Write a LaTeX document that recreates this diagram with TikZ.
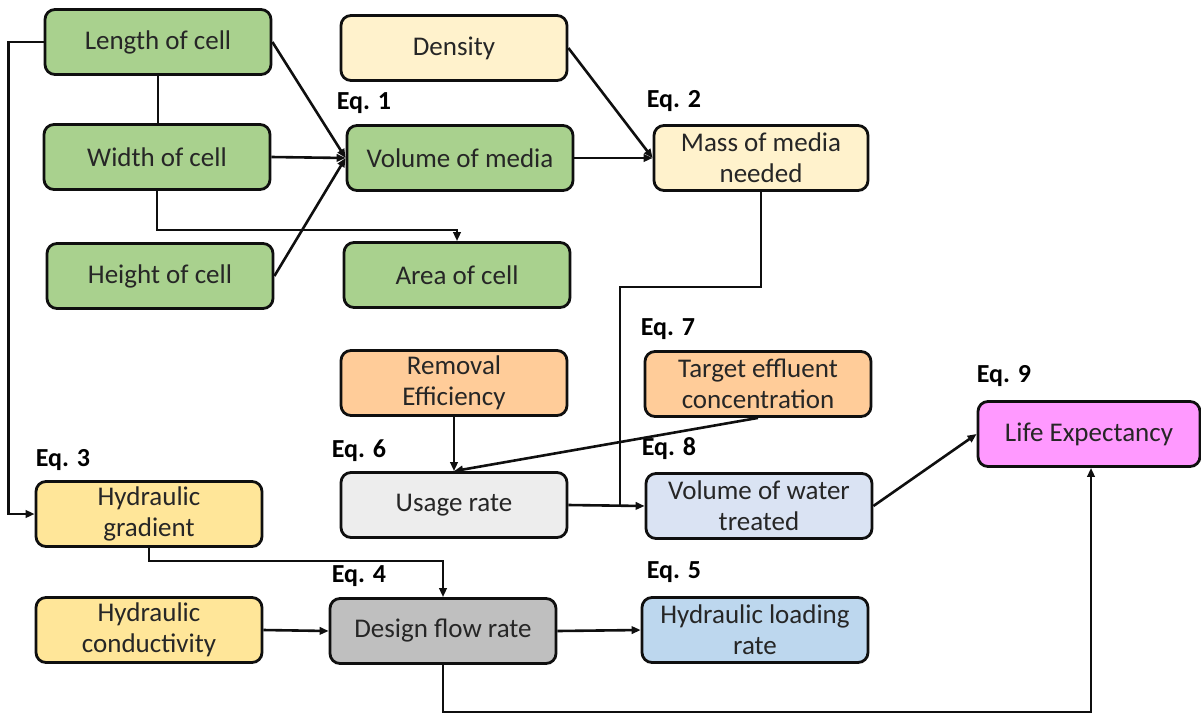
\documentclass[tikz,border=0pt]{standalone}
\usepackage{fontspec}
\setmainfont{Carlito}
\usepackage{xcolor}
\usepackage{tikz}
\usetikzlibrary{arrows.meta, positioning, calc}
\definecolor{cellgreen}{RGB}{169,209,142}
\definecolor{hdrcream}{RGB}{255,242,204}
\definecolor{hdrorange}{RGB}{255,204,153}
\definecolor{hdryellow}{RGB}{255,230,153}
\definecolor{hdrgray}{RGB}{237,237,237}
\definecolor{flowgray}{RGB}{191,191,191}
\definecolor{hdrblue}{RGB}{218,227,243}
\definecolor{loadblue}{RGB}{189,215,238}
\definecolor{hdrpink}{RGB}{255,153,255}
\definecolor{mydark}{RGB}{15,15,15}
\tikzset{
  block/.style={rectangle, draw=mydark, text=black!85,
    minimum width=226pt, minimum height=65pt, align=center,
    font=\fontsize{27}{31}\selectfont, rounded corners=10pt, line width=2.8pt},
  eqlabel/.style={font=\fontsize{26}{28}\selectfont\bfseries, anchor=south west,
    inner sep=0pt},
  arrow/.style={-{Triangle[length=9pt,width=7.5pt]}, line width=2.6pt, color=mydark},
  line/.style={line width=2.6pt, color=mydark}
}

\begin{document}
\begin{tikzpicture}[x=1pt, y=-1pt]
  \useasboundingbox (0,0) rectangle (1201,713);

  % Cell geometry
  \node[block, fill=cellgreen] (len) at (158,42) {Length of cell};
  \node[block, fill=cellgreen] (wid) at (157,157) {Width of cell};
  \node[block, fill=cellgreen] (hgt) at (160,276) {Height of cell};
  \node[block, fill=cellgreen] (vol) at (460,158) {Volume of media};
  \node[block, fill=cellgreen] (area) at (457,275) {Area of cell};

  % Media
  \node[block, fill=hdrcream] (dens) at (454,48) {Density};
  \node[block, fill=hdrcream, minimum width=214pt] (mass) at (761,158) {Mass of media\\needed};

  % Treatment
  \node[block, fill=hdrorange] (remov) at (454,383) {Removal\\Efficiency};
  \node[block, fill=hdrorange] (target) at (758,384) {Target effluent\\concentration};
  \node[block, fill=hdrgray] (usage) at (454,505) {Usage rate};
  \node[block, fill=hdrblue] (water) at (759,506) {Volume of water\\treated};
  \node[block, fill=hdrpink, minimum width=222pt] (life) at (1089,434) {Life Expectancy};

  % Hydraulics
  \node[block, fill=hdryellow] (grad) at (149,514) {Hydraulic\\gradient};
  \node[block, fill=hdryellow] (cond) at (149,630) {Hydraulic\\conductivity};
  \node[block, fill=flowgray] (design) at (443,631) {Design flow rate};
  \node[block, fill=loadblue] (load) at (755,630) {Hydraulic loading\\rate};

  % Equation numbers
  \node[eqlabel] at ([xshift=-9pt, yshift=10pt]vol.north west) {Eq. 1};
  \node[eqlabel] at ([xshift=-6pt, yshift=12pt]mass.north west) {Eq. 2};
  \node[eqlabel] at ([xshift=1pt, yshift=9pt]grad.north west) {Eq. 3};
  \node[eqlabel] at ([xshift=3pt, yshift=10pt]design.north west) {Eq. 4};
  \node[eqlabel] at ([xshift=6pt, yshift=13pt]load.north west) {Eq. 5};
  \node[eqlabel] at ([xshift=-8pt, yshift=9pt]usage.north west) {Eq. 6};
  \node[eqlabel] at ([xshift=-3pt, yshift=10pt]target.north west) {Eq. 7};
  \node[eqlabel] at ([xshift=-3pt, yshift=12pt]water.north west) {Eq. 8};
  \node[eqlabel] at ([xshift=0pt, yshift=13pt]life.north west) {Eq. 9};

  \coordinate (jn) at (620,287);

  % Connections
  \draw[arrow] (len.east) -- (vol.west);
  \draw[arrow] (wid.east) -- (vol.west);
  \draw[arrow] (hgt.east) -- (vol.west);
  \draw[line] (len.south) -- (len.south |- wid.north);
  \draw[arrow] (wid.south) -- ++(0,39) -| (area.north);
  \draw[arrow] (len.west) -- ++(-35,0) |- (grad.west);
  \draw[arrow] (dens.east) -- (mass.west);
  \draw[arrow] (vol.east) -- (mass.west);
  \draw[line] (mass.south) |- (jn) -- (jn |- water.west);
  \draw[arrow] (usage.east) -- (water.west);
  \draw[arrow] (remov.south) -- (usage.north);
  \draw[arrow] (target.south) -- (usage.north);
  \draw[arrow] (water.east) -- (life.west);
  \draw[arrow] (grad.south) -- ++(0,13) -| (design.north);
  \draw[arrow] (cond.east) -- (design.west);
  \draw[arrow] (design.east) -- (load.west);
  \draw[arrow] (design.south) -- ++(0,47) -| ([xshift=2pt]life.south);
\end{tikzpicture}
\end{document}
